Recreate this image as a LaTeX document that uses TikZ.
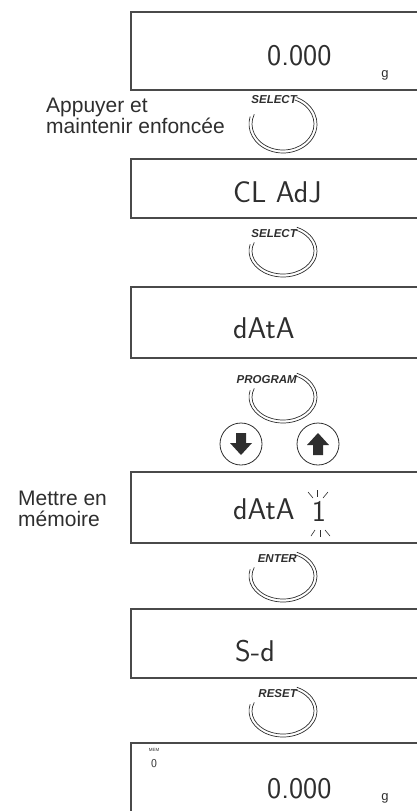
\documentclass[tikz,border=0pt]{standalone}
\usepackage{fontspec}
\newfontfamily\labelfont{Liberation Sans}
\definecolor{ink}{HTML}{2E2E2E}
\definecolor{frame}{HTML}{4A4A4A}
\tikzset{
  framebox/.style={draw=frame, line width=1.1pt},
  btnline/.style={draw=ink, line width=0.7pt},
  btnlabel/.style={font=\labelfont\bfseries\itshape\fontsize{11.5}{12}\selectfont, text=ink, anchor=east, inner sep=0pt},
  lcd/.style={font=\sffamily\fontsize{30}{30}\selectfont, text=ink, inner sep=0pt, anchor=base west},
  unit/.style={font=\labelfont\fontsize{13}{13}\selectfont, text=ink, inner sep=0pt, anchor=base},
  sidetext/.style={font=\labelfont\fontsize{21}{21}\selectfont, text=ink, inner sep=0pt, align=left, anchor=base west},
  arrowbtn/.style={circle, draw=ink, line width=0.8pt, minimum size=42pt, inner sep=0pt},
  ray/.style={draw=ink, line width=0.6pt}
}
\newcommand\lcdframe[2]{% top, bottom (px)
  \draw[framebox] (420,-#1) -- (131,-#1) -- (131,-#2) -- (420,-#2);}
\newcommand\pushbtn[5]{% name, centre y, y radius, label y, label
  \draw[btnline] ([shift={(66:34 and #3)}]283,-#2) arc[start angle=66, end angle=-195, x radius=34, y radius=#3];
  \draw[btnline] ([shift={(68:31 and #3-3)}]283,-#2) arc[start angle=68, end angle=-202, x radius=31, y radius=#3-3];
  \node[btnlabel] (#1) at (297,-#4) {#5};}
\begin{document}
\begin{tikzpicture}[x=1pt,y=1pt]
\useasboundingbox (0,0) rectangle (417,-811);
\clip (0,0) rectangle (417,-811);
% displays
\lcdframe{12}{90}
\node[lcd] (d1) at (267,-65) {0.000};
\node[unit] (g1) at (385,-77) {g};
\lcdframe{159}{218}
\node[lcd] (d2) at (233,-202) {CL AdJ};
\lcdframe{287}{358}
\node[lcd] (d3) at (233,-338) {dAtA};
\lcdframe{472}{543}
\node[lcd] (d4) at (233,-519) {dAtA};
\node[lcd, anchor=base] (d4b) at (319,-521) {1};
\draw[ray] (308,-492) -- (313,-498);
\draw[ray] (317,-490) -- (317,-497);
\draw[ray] (328,-492) -- (323,-498);
\draw[ray] (315,-530) -- (311,-536);
\draw[ray] (320,-530) -- (320,-537);
\draw[ray] (325,-530) -- (330,-536);
\lcdframe{609}{678}
\node[lcd] (d5) at (235,-661) {S-d};
\draw[framebox] (420,-743) -- (131,-743) -- (131,-815);
\node[font=\labelfont\fontsize{4.5}{5}\selectfont, text=ink, inner sep=0pt] (mem) at (154,-750) {MEM};
\node[font=\sffamily\fontsize{12}{12}\selectfont, text=ink, inner sep=0pt, anchor=base] (m0) at (154,-767) {0};
\node[lcd] (d6) at (267,-798) {0.000};
\node[unit] (g6) at (385,-800) {g};
% buttons
\pushbtn{b1}{124}{29}{100}{SELECT}
\pushbtn{b2}{251}{26}{234}{SELECT}
\pushbtn{b3}{397}{26}{380}{PROGRAM}
\pushbtn{b4}{576}{26}{559}{ENTER}
\pushbtn{b5}{711}{26}{694}{RESET}
% arrow keys
\node[arrowbtn] (down) at (241,-444) {};
\node[arrowbtn] (up) at (318,-444) {};
\fill[ink, shift={(down.center)}] (-5,11) -- (5,11) -- (5,1) -- (11,1) -- (0,-11) -- (-11,1) -- (-5,1) -- cycle;
\fill[ink, shift={(up.center)}] (-5,-11) -- (5,-11) -- (5,-1) -- (11,-1) -- (0,11) -- (-11,-1) -- (-5,-1) -- cycle;
% side texts
\node[sidetext] (t1) at (46,-133) {Appuyer et\\maintenir enfoncée};
\node[sidetext] (t2) at (18,-526) {Mettre en\\mémoire};
\end{tikzpicture}
\end{document}
